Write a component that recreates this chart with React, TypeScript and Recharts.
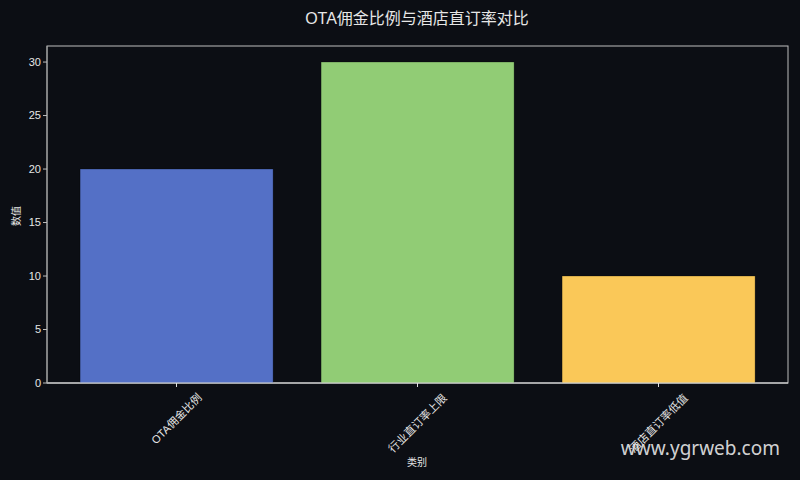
import { BarChart, Bar, XAxis, YAxis, Cell } from 'recharts'

const categories = ['OTA佣金比例', '行业直订率上限', '酒店直订率低值']
const values = [20, 30, 10]
const barColors = ['#5470c6', '#91cc75', '#fac858']
const yTicks = [0, 5, 10, 15, 20, 25, 30]

const BG = '#0c0e14'
const TEXT = '#e6e6e6'
const FONT = '"Liberation Sans", "Noto Sans CJK SC", sans-serif'
const TICK_FS = 11

const data = categories.map((name, i) => ({ name, value: values[i] }))

// rough text width so the rotated label's box can be centred under its tick
function textWidth(s: string, fs: number) {
  let w = 0
  for (const ch of s) w += ch.charCodeAt(0) > 255 ? fs : fs * 0.62
  return w
}

function RotatedTick(props: any) {
  const { x, payload } = props
  const label = String(payload.value)
  const h = (textWidth(label, TICK_FS) + TICK_FS) * Math.SQRT1_2
  const cy = 392 + h / 2
  return (
    <text
      x={x}
      y={cy}
      transform={`rotate(-45 ${x} ${cy})`}
      textAnchor="middle"
      dominantBaseline="central"
      fontSize={TICK_FS}
      fill={TEXT}
      fontFamily={FONT}
    >
      {label}
    </text>
  )
}

export default function App() {
  return (
    <div style={{ position: 'fixed', left: 0, top: 0, width: 800, height: 480, background: BG }}>
      <BarChart
        width={800}
        height={480}
        data={data}
        margin={{ top: 46, right: 12, left: 10, bottom: 37 }}
        barCategoryGap="10%"
      >
        <rect x={47} y={46} width={741} height={337} fill="none" stroke="#bdbdbd" strokeWidth={1} />
        <XAxis
          dataKey="name"
          height={60}
          padding={{ left: 9, right: 9 }}
          interval={0}
          tick={<RotatedTick />}
          tickLine={{ stroke: '#e0e0e0' }}
          tickSize={4}
          axisLine={{ stroke: '#e8e8e8' }}
        />
        <YAxis
          width={37}
          domain={[0, 31.5]}
          ticks={yTicks}
          allowDataOverflow
          tick={{ fontSize: TICK_FS, fill: TEXT, fontFamily: FONT }}
          tickLine={{ stroke: '#bdbdbd' }}
          tickSize={4}
          axisLine={{ stroke: '#9e9e9e' }}
        />
        <Bar dataKey="value" isAnimationActive={false}>
          {data.map((d, i) => (
            <Cell key={d.name} fill={barColors[i]} stroke="rgba(0,0,0,0.25)" strokeWidth={1} />
          ))}
        </Bar>
        <text x={417} y={24} textAnchor="middle" fontSize={16} fill={TEXT} fontFamily={FONT}>
          OTA佣金比例与酒店直订率对比
        </text>
        <text
          x={20}
          y={216}
          transform="rotate(-90 20 216)"
          textAnchor="middle"
          fontSize={10}
          fill={TEXT}
          fontFamily={FONT}
        >
          数值
        </text>
        <text x={417} y={466} textAnchor="middle" fontSize={10} fill={TEXT} fontFamily={FONT}>
          类别
        </text>
        <text
          x={780}
          y={455}
          textAnchor="end"
          fontSize={19}
          fill="rgba(235,235,235,0.9)"
          fontFamily='"Noto Sans", sans-serif'
        >
          www.ygrweb.com
        </text>
      </BarChart>
    </div>
  )
}
